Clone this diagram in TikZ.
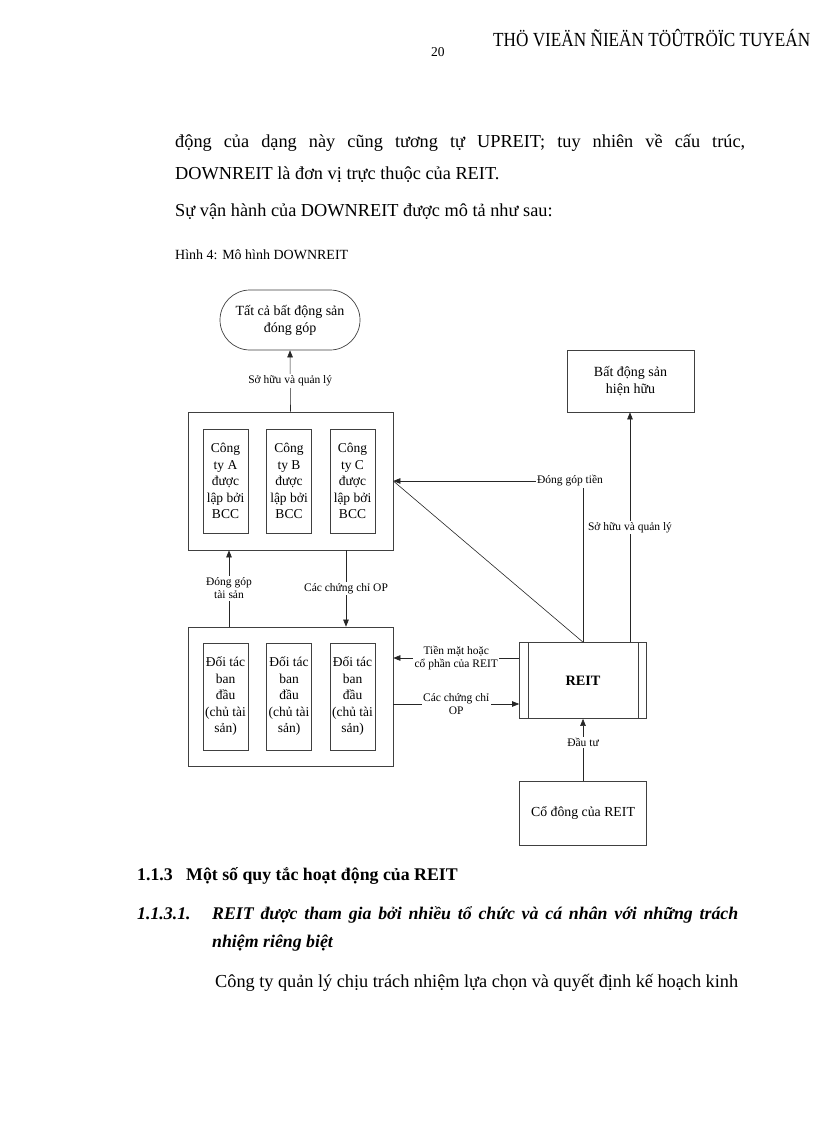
\documentclass[tikz,border=0pt]{standalone}
\usepackage{fontspec}
\usepackage{graphicx}
\setmainfont{Liberation Serif}
\usetikzlibrary{arrows.meta,shapes.misc}
\begin{document}
\begin{tikzpicture}[x=1pt,y=-1pt,
 box/.style={draw=black!75,line width=0.7pt},
 arr/.style={-{Triangle[length=7pt,width=5.5pt]},line width=0.6pt,draw=black!85},
 ln/.style={line width=0.6pt,draw=black!85},
 lbl/.style={font=\fontsize{11.5}{13}\selectfont,fill=white,inner sep=1.5pt,align=center},
 innerbox/.style={box,minimum width=45pt,align=center,font=\fontsize{13.5}{16.5}\selectfont,inner sep=0pt},
 bigbox/.style={box,minimum width=205pt},
 body/.style={anchor=base west,inner sep=0pt,font=\fontsize{18.3}{20}\selectfont}]
\useasboundingbox[fill=white] (0,0) rectangle (816,1123);

% header
\node[anchor=base west,inner sep=0pt,font=\fontsize{13.5}{15}\selectfont] (pg) at (431,57) {20};
\node[anchor=base west,inner sep=0pt,font=\fontsize{20}{22}\selectfont] (hd) at (493,47) {\resizebox{317pt}{\height}{THÖ VIEÄN ÑIEÄN TÖÛTRÖÏC TUYEÁN}};

% body text
\node[body] (l1) at (175,148) {\makebox[570pt][s]{động của dạng này cũng tương tự UPREIT; tuy nhiên về cấu trúc,}};
\node[body] (l2) at (175,180) {DOWNREIT là đơn vị trực thuộc của REIT.};
\node[body] (l3) at (175,217) {Sự vận hành của DOWNREIT được mô tả như sau:};
\node[anchor=base west,inner sep=0pt,font=\fontsize{14}{16}\selectfont] (cap) at (175,259) {Hình 4: Mô hình DOWNREIT};

% diagram boxes
\node[box,rounded rectangle,minimum width=140pt,minimum height=60pt,align=center,font=\fontsize{14}{17}\selectfont,inner sep=0pt] (all) at (290,320) {Tất cả bất động sản\\đóng góp};

\node[bigbox,minimum height=138pt] (topbox) at (290.5,481) {};
\node[innerbox,minimum height=104pt] (ca) at (225.5,481) {Công\\ty A\\được\\lập bởi\\BCC};
\node[innerbox,minimum height=104pt] (cb) at (289,481) {Công\\ty B\\được\\lập bởi\\BCC};
\node[innerbox,minimum height=104pt] (cc) at (352.5,481) {Công\\ty C\\được\\lập bởi\\BCC};

\node[bigbox,minimum height=139pt] (botbox) at (290.5,696.5) {};
\node[innerbox,minimum height=107pt] (da) at (225.5,696.5) {Đối tác\\ban\\đầu\\(chủ tài\\sản)};
\node[innerbox,minimum height=107pt] (db) at (289,696.5) {Đối tác\\ban\\đầu\\(chủ tài\\sản)};
\node[innerbox,minimum height=107pt] (dc) at (352.5,696.5) {Đối tác\\ban\\đầu\\(chủ tài\\sản)};

\node[box,minimum width=127pt,minimum height=62pt,align=center,font=\fontsize{14}{17}\selectfont] (bds) at (630.5,381) {Bất động sản\\hiện hữu};
\node[box,minimum width=127pt,minimum height=76pt,font=\bfseries\fontsize{14.3}{16}\selectfont] (reit) at (583,680.5) {REIT};
\draw[box] ([xshift=9pt]reit.north west) -- ([xshift=9pt]reit.south west);
\draw[box] ([xshift=-9pt]reit.north east) -- ([xshift=-9pt]reit.south east);
\node[box,minimum width=127pt,minimum height=64pt,font=\fontsize{13.8}{15}\selectfont] (cd) at (583,813) {Cổ đông của REIT};

% connectors
\draw[arr] (topbox.north) -- node[lbl]{Sở hữu và quản lý} (all.south);
\draw[arr] ([xshift=-61.5pt]botbox.north) -- node[lbl]{Đóng góp\\tài sản} ([xshift=-61.5pt]topbox.south);
\draw[arr] ([xshift=55.5pt]topbox.south) -- node[lbl]{Các chứng chỉ OP} ([xshift=55.5pt]botbox.north);
\draw[arr] ([yshift=22.5pt]reit.west) -- node[lbl]{Tiền mặt hoặc\\cổ phần của REIT} ([yshift=22.5pt]reit.west -| botbox.east);
\draw[arr] ([yshift=-23.5pt]reit.west -| botbox.east) -- node[lbl]{Các chứng chỉ\\OP} ([yshift=-23.5pt]reit.west);
\draw[arr] (cd.north) -- node[lbl,pos=0.62]{Đầu tư} (reit.south);
\draw[arr] ([xshift=47pt]reit.north) -- node[lbl]{Sở hữu và quản lý} ([xshift=47pt]reit.north |- bds.south);
\draw[arr] (reit.north) |- (topbox.east);
\draw[ln] (reit.north) -- (topbox.east);
\node[lbl] (dgt) at ([xshift=-13pt]reit.north |- topbox.east) {Đóng góp tiền};

% section text
\node[body,font=\bfseries\fontsize{17.8}{20}\selectfont] (s1n) at (137,880) {1.1.3};
\node[body,font=\bfseries\fontsize{17.8}{20}\selectfont] (s1) at (186,880) {Một số quy tắc hoạt động của REIT};
\node[body,font=\bfseries\itshape\fontsize{17.8}{20}\selectfont] (s2n) at (137,919) {1.1.3.1.};
\node[body,font=\bfseries\itshape\fontsize{17.8}{20}\selectfont] (s2) at (212,919) {\makebox[526pt][s]{REIT được tham gia bởi nhiều tổ chức và cá nhân với những trách}};
\node[body,font=\bfseries\itshape\fontsize{17.8}{20}\selectfont] (s2b) at (212,947) {nhiệm riêng biệt};
\node[body] (p1) at (215,987) {\makebox[523pt][s]{Công ty quản lý chịu trách nhiệm lựa chọn và quyết định kế hoạch kinh}};
\end{tikzpicture}
\end{document}
